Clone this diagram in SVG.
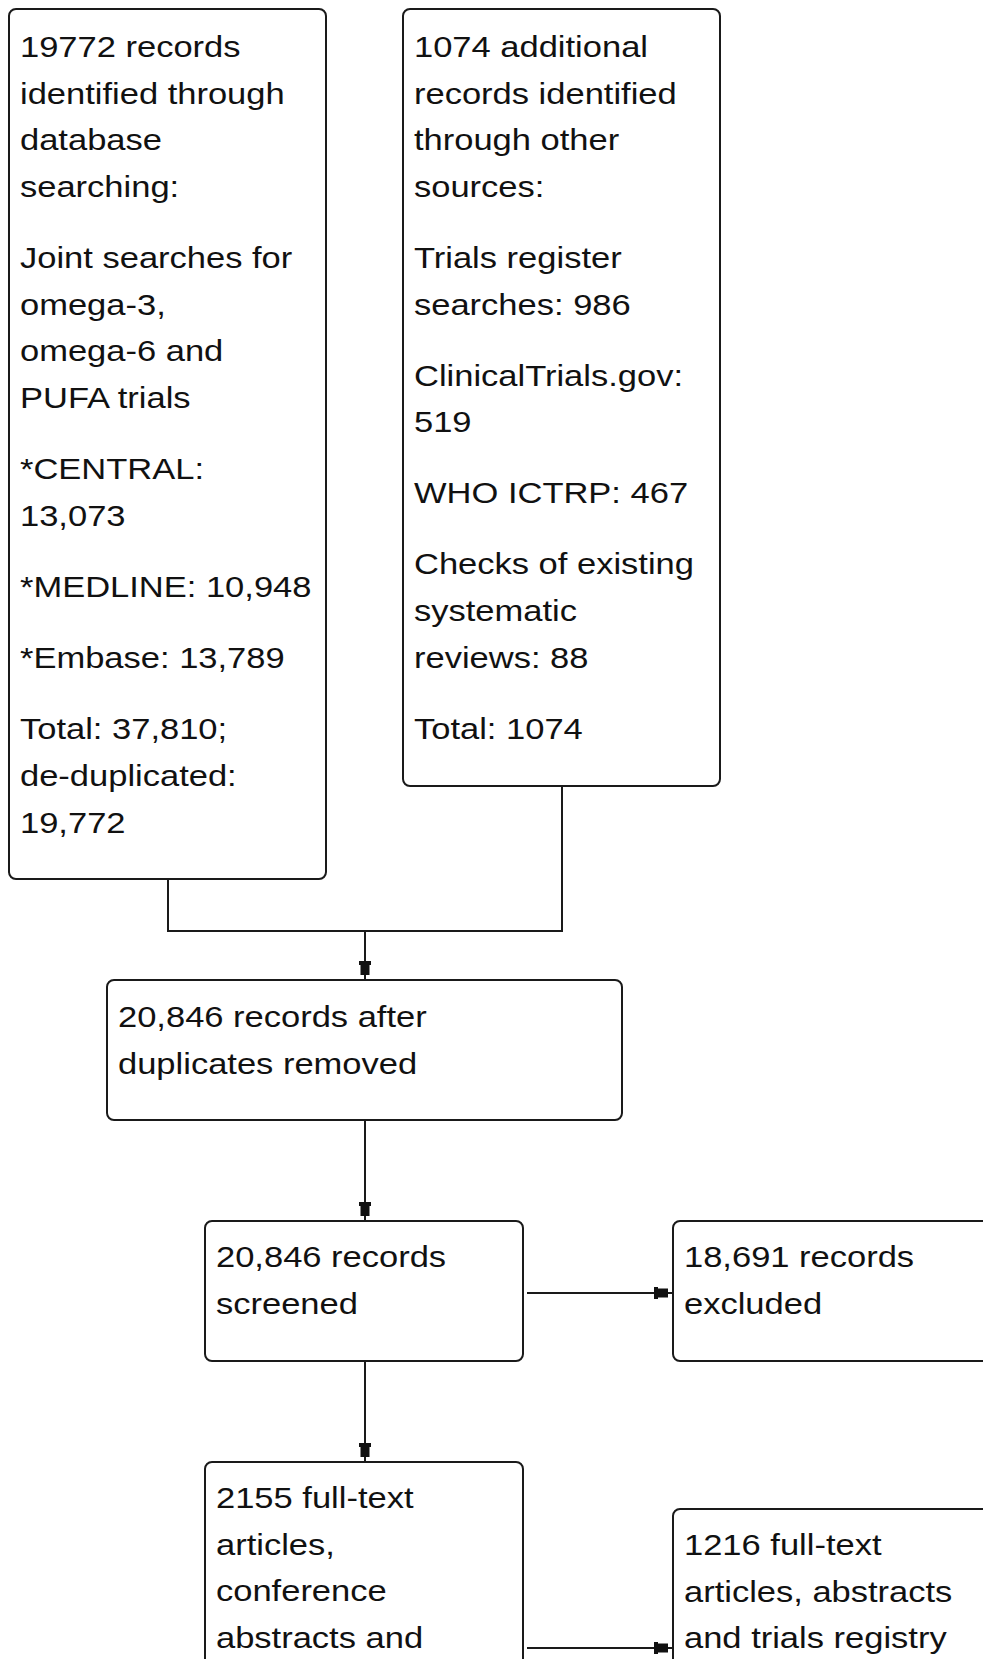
<svg xmlns="http://www.w3.org/2000/svg" width="983" height="1659" viewBox="0 0 983 1659">
<style>
.box{fill:#fff;stroke:#1a1a1a;stroke-width:2}
.lbl{font-family:"Liberation Sans",Arial,sans-serif;font-size:29px;fill:#111}
.conn{fill:none;stroke:#1a1a1a;stroke-width:2}
</style>
<defs>
<marker id="arr" markerUnits="userSpaceOnUse" markerWidth="30" markerHeight="20" viewBox="-25 -10 30 20" refX="0" refY="0" orient="auto">
<path d="M-19,-6 H-15 V-4.5 H-5 V4.5 H-15 V6 H-19 Z" fill="#111"/>
</marker>
</defs>
<rect width="983" height="1659" fill="#fff"/>
<g id="connectors">
<polyline class="conn" points="168,879 168,931 562,931 562,786"/>
<line class="conn" x1="365" y1="931" x2="365" y2="980" marker-end="url(#arr)"/>
<line class="conn" x1="365" y1="1120" x2="365" y2="1221" marker-end="url(#arr)"/>
<line class="conn" x1="365" y1="1361" x2="365" y2="1462" marker-end="url(#arr)"/>
<line class="conn" x1="527" y1="1293" x2="673" y2="1293" marker-end="url(#arr)"/>
<line class="conn" x1="527" y1="1648" x2="673" y2="1648" marker-end="url(#arr)"/>
</g>
<g id="node-db">
<rect class="box" x="9" y="9" width="317" height="870" rx="7"/>
<text class="lbl" transform="translate(20,0) scale(1.19,1)">
<tspan x="0" y="57">19772 records</tspan>
<tspan x="0" y="103.7">identified through</tspan>
<tspan x="0" y="150.4">database</tspan>
<tspan x="0" y="197.1">searching:</tspan>
<tspan x="0" y="268">Joint searches for</tspan>
<tspan x="0" y="314.7">omega-3,</tspan>
<tspan x="0" y="361.4">omega-6 and</tspan>
<tspan x="0" y="408.1">PUFA trials</tspan>
<tspan x="0" y="479.5">*CENTRAL:</tspan>
<tspan x="0" y="526.2">13,073</tspan>
<tspan x="0" y="597">*MEDLINE: 10,948</tspan>
<tspan x="0" y="668">*Embase: 13,789</tspan>
<tspan x="0" y="739.5">Total: 37,810;</tspan>
<tspan x="0" y="786.2">de-duplicated:</tspan>
<tspan x="0" y="833">19,772</tspan>
</text>
</g>
<g id="node-other">
<rect class="box" x="403" y="9" width="317" height="777" rx="7"/>
<text class="lbl" transform="translate(414,0) scale(1.19,1)">
<tspan x="0" y="57">1074 additional</tspan>
<tspan x="0" y="103.7">records identified</tspan>
<tspan x="0" y="150.4">through other</tspan>
<tspan x="0" y="197.1">sources:</tspan>
<tspan x="0" y="268">Trials register</tspan>
<tspan x="0" y="314.7">searches: 986</tspan>
<tspan x="0" y="385.7">ClinicalTrials.gov:</tspan>
<tspan x="0" y="432.4">519</tspan>
<tspan x="0" y="503.5">WHO ICTRP: 467</tspan>
<tspan x="0" y="574.5">Checks of existing</tspan>
<tspan x="0" y="621.2">systematic</tspan>
<tspan x="0" y="668">reviews: 88</tspan>
<tspan x="0" y="739">Total: 1074</tspan>
</text>
</g>
<g id="node-dedup">
<rect class="box" x="107" y="980" width="515" height="140" rx="7"/>
<text class="lbl" transform="translate(118,0) scale(1.19,1)">
<tspan x="0" y="1027">20,846 records after</tspan>
<tspan x="0" y="1073.7">duplicates removed</tspan>
</text>
</g>
<g id="node-screened">
<rect class="box" x="205" y="1221" width="318" height="140" rx="7"/>
<text class="lbl" transform="translate(216,0) scale(1.19,1)">
<tspan x="0" y="1267">20,846 records</tspan>
<tspan x="0" y="1313.7">screened</tspan>
</text>
</g>
<g id="node-excluded">
<rect class="box" x="673" y="1221" width="340" height="140" rx="7"/>
<text class="lbl" transform="translate(684,0) scale(1.19,1)">
<tspan x="0" y="1267">18,691 records</tspan>
<tspan x="0" y="1313.7">excluded</tspan>
</text>
</g>
<g id="node-fulltext">
<rect class="box" x="205" y="1462" width="318" height="260" rx="7"/>
<text class="lbl" transform="translate(216,0) scale(1.19,1)">
<tspan x="0" y="1508">2155 full-text</tspan>
<tspan x="0" y="1554.7">articles,</tspan>
<tspan x="0" y="1601.4">conference</tspan>
<tspan x="0" y="1648.1">abstracts and</tspan>
</text>
</g>
<g id="node-ftexcluded">
<rect class="box" x="673" y="1509" width="340" height="220" rx="7"/>
<text class="lbl" transform="translate(684,0) scale(1.19,1)">
<tspan x="0" y="1555">1216 full-text</tspan>
<tspan x="0" y="1601.7">articles, abstracts</tspan>
<tspan x="0" y="1648.4">and trials registry</tspan>
</text>
</g>
</svg>
